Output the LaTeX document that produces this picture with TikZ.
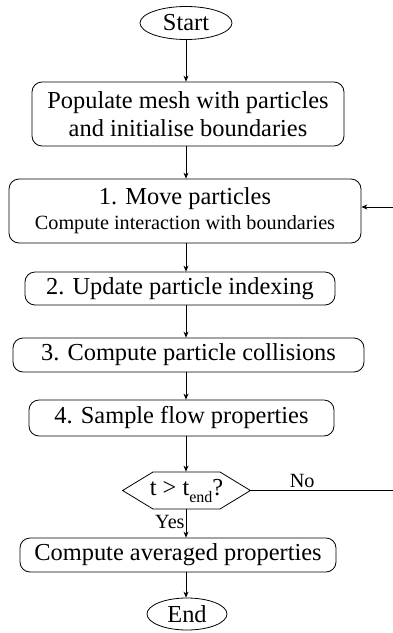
\documentclass[tikz,border=0pt]{standalone}
\usepackage{fontspec}
\setmainfont{Liberation Serif}
\usetikzlibrary{arrows.meta,shapes.geometric}
\begin{document}
\begin{tikzpicture}[x=1pt,y=-1pt,
  line width=0.8pt,
  big/.style={font=\fontsize{24.4}{28}\selectfont},
  small/.style={font=\fontsize{20.2}{23}\selectfont},
  box/.style={draw, rounded corners=10pt, inner sep=0pt, align=center, big},
  term/.style={draw, ellipse, inner sep=0pt, big},
  arr/.style={-{Stealth[length=6pt,width=5pt]}},
]
\useasboundingbox (0,0) rectangle (392,633);

\node[term, minimum width=92pt, minimum height=33pt] (start) at (186,23) {Start};
\node[box, minimum width=312pt, minimum height=64pt] (pop) at (188,114)
  {Populate mesh with particles\\and initialise boundaries};
\node[box, minimum width=352pt, minimum height=64pt] (mv) at (185,211)
  {1. Move particles\\[-3pt]{\fontsize{20.2}{23}\selectfont Compute interaction with boundaries}};
\node[box, minimum width=310pt, minimum height=33pt] (upd) at (180,288.5) {2. Update particle indexing};
\node[box, minimum width=351pt, minimum height=34pt] (col) at (188.5,355) {3. Compute particle collisions};
\node[box, minimum width=305pt, minimum height=36pt] (smp) at (181.5,418) {4. Sample flow properties};
\node[inner sep=0pt, minimum width=127pt, minimum height=37pt, big] (dec) at (186.5,490.5)
  {t > t\raisebox{-7pt}{\fontsize{16}{16}\selectfont end}?};
\draw (dec.west) -- (153,472) -- (220,472) -- (dec.east) -- (220,509) -- (153,509) -- cycle;
\node[box, minimum width=316pt, minimum height=34pt] (avg) at (178,555) {Compute averaged properties};
\node[term, minimum width=80pt, minimum height=32pt] (end) at (187,614) {End};

\draw[arr] (start.south) -- (start.south |- pop.north);
\draw[arr] (pop.south -| start) -- (mv.north -| start);
\draw[arr] (mv.south -| start) -- (upd.north -| start);
\draw[arr] (upd.south -| start) -- (col.north -| start);
\draw[arr] (col.south -| start) -- (smp.north -| start);
\draw[arr] (smp.south -| start) -- (dec.north -| start);
\draw[arr] (dec.south -| start) -- node[left, small, inner sep=1pt, pos=0.45] {Yes} (avg.north -| start);
\draw[arr] (avg.south -| start) -- (end.north -| start);

\coordinate (rb) at (394,490.5);
\coordinate (rt) at (394,207);
\draw[arr] (dec.east) -- node[above, small, pos=0.36, inner sep=2pt] {No} (rb) -- (rt) -- (rt -| mv.east);
\end{tikzpicture}
\end{document}
